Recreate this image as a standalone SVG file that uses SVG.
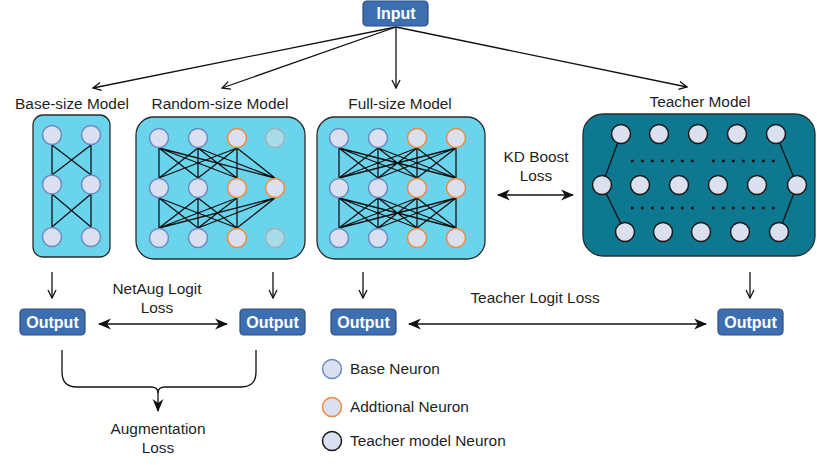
<svg xmlns="http://www.w3.org/2000/svg" width="817" height="465" viewBox="0 0 817 465">
<defs>
<style>
text{font-family:"Liberation Sans",Arial,sans-serif;fill:#1f1f1f}
.lbl{font-size:15.4px;text-anchor:middle}
.leg{font-size:15.4px}
.btn{fill:#3d6fb0;stroke:#2a4e80;stroke-width:1.2}
.btxt{font-size:16px;font-weight:bold;fill:#fff;text-anchor:middle}
.box{fill:#6bd4ed;stroke:#2b2b2b;stroke-width:1.3}
.tbox{fill:#0e7890;stroke:#2b2b2b;stroke-width:1.3}
.nb{fill:#dae0ef;stroke:#6a8cc4;stroke-width:1.5}
.no{fill:#dae0ef;stroke:#ee8a3e;stroke-width:1.5}
.nf{fill:#a8dbe9;stroke:#9fb3b6;stroke-width:1.5}
.nt{fill:#dae0ef;stroke:#1a1a1a;stroke-width:1.5}
.w{stroke:#111;stroke-width:1.3;fill:none}
.c{stroke:#111;stroke-width:1.3;fill:none}
.dots{stroke:#111;stroke-width:2.6;stroke-dasharray:2.6 7.4;fill:none}
</style>
<marker id="open" viewBox="0 0 10 10" refX="9" refY="5" markerWidth="10" markerHeight="10" markerUnits="userSpaceOnUse" orient="auto-start-reverse">
<path d="M1,1 L9,5 L1,9" fill="none" stroke="#111" stroke-width="1.3"/>
</marker>
<marker id="fill" viewBox="0 0 12 12" refX="11" refY="6" markerWidth="13" markerHeight="13" markerUnits="userSpaceOnUse" orient="auto-start-reverse">
<path d="M0,1 L12,6 L0,11 L3.5,6 z" fill="#111"/>
</marker>
</defs>
<rect width="817" height="465" fill="#fff"/>

<g id="connectors">
<line class="c" x1="396" y1="27" x2="93" y2="88" marker-end="url(#open)"/>
<line class="c" x1="396" y1="27" x2="222" y2="88" marker-end="url(#open)"/>
<line class="c" x1="396" y1="27" x2="396" y2="88" marker-end="url(#open)"/>
<line class="c" x1="396" y1="27" x2="687" y2="87" marker-end="url(#open)"/>
<line class="c" x1="52" y1="272" x2="52" y2="298" marker-end="url(#open)"/>
<line class="c" x1="273" y1="272" x2="273" y2="298" marker-end="url(#open)"/>
<line class="c" x1="363" y1="272" x2="363" y2="298" marker-end="url(#open)"/>
<line class="c" x1="750" y1="272" x2="750" y2="298" marker-end="url(#open)"/>
<line class="c" x1="99" y1="324" x2="227" y2="324" marker-start="url(#fill)" marker-end="url(#fill)"/>
<line class="c" x1="409" y1="324" x2="706" y2="324" marker-start="url(#fill)" marker-end="url(#fill)"/>
<line class="c" x1="498" y1="195" x2="573" y2="195" marker-start="url(#fill)" marker-end="url(#fill)"/>
<path class="c" d="M62,350 V372 Q62,387 77,387 H151 Q158,387 158,393 Q158,387 165,387 H241 Q256,387 256,372 V350"/>
<line class="c" x1="158" y1="392" x2="158" y2="411" marker-end="url(#fill)"/>
</g>

<g id="input">
<rect class="btn" x="363" y="1" width="65" height="25" rx="4"/>
<text class="btxt" x="396" y="19">Input</text>
</g>

<g id="base-model">
<text class="lbl" x="72" y="109">Base-size Model</text>
<rect class="box" x="33" y="115" width="77" height="142" rx="10"/>
<path class="w" d="M52,145 V175 M91,145 V175 M52,145 L91,175 M91,145 L52,175 M52,194 V227 M91,194 V227 M52,194 L91,227 M91,194 L52,227"/>
<circle class="nb" cx="52" cy="135" r="9.5"/><circle class="nb" cx="91" cy="135" r="9.5"/>
<circle class="nb" cx="52" cy="184.5" r="9.5"/><circle class="nb" cx="91" cy="184.5" r="9.5"/>
<circle class="nb" cx="52" cy="237" r="9.5"/><circle class="nb" cx="91" cy="237" r="9.5"/>
</g>

<g id="random-model">
<text class="lbl" x="220" y="109">Random-size Model</text>
<rect class="box" x="136" y="117" width="169" height="142" rx="18"/>
<path class="w" d="M159,148 L159,178 M159,148 L198,178 M159,148 L237,178 M159,148 L275,178 M198,148 L159,178 M198,148 L198,178 M198,148 L237,178 M198,148 L275,178 M237,148 L159,178 M237,148 L198,178 M237,148 L237,178 M237,148 L275,178 M159,198 L159,228 M159,198 L198,228 M159,198 L237,228 M198,198 L159,228 M198,198 L198,228 M198,198 L237,228 M237,198 L159,228 M237,198 L198,228 M237,198 L237,228 M275,198 L159,228 M275,198 L198,228 M275,198 L237,228"/>
<circle class="nb" cx="159" cy="138" r="9.5"/><circle class="nb" cx="198" cy="138" r="9.5"/><circle class="no" cx="237" cy="138" r="9.5"/><circle class="nf" cx="275" cy="138" r="9.5"/>
<circle class="nb" cx="159" cy="188" r="9.5"/><circle class="nb" cx="198" cy="188" r="9.5"/><circle class="no" cx="237" cy="188" r="9.5"/><circle class="no" cx="275" cy="188" r="9.5"/>
<circle class="nb" cx="159" cy="238" r="9.5"/><circle class="nb" cx="198" cy="238" r="9.5"/><circle class="no" cx="237" cy="238" r="9.5"/><circle class="nf" cx="275" cy="238" r="9.5"/>
</g>

<g id="full-model">
<text class="lbl" x="400" y="109">Full-size Model</text>
<rect class="box" x="317" y="117" width="168" height="142" rx="18"/>
<path class="w" d="M339,148 L339,178 M339,148 L378,178 M339,148 L417,178 M339,148 L456,178 M378,148 L339,178 M378,148 L378,178 M378,148 L417,178 M378,148 L456,178 M417,148 L339,178 M417,148 L378,178 M417,148 L417,178 M417,148 L456,178 M456,148 L339,178 M456,148 L378,178 M456,148 L417,178 M456,148 L456,178 M339,198 L339,228 M339,198 L378,228 M339,198 L417,228 M339,198 L456,228 M378,198 L339,228 M378,198 L378,228 M378,198 L417,228 M378,198 L456,228 M417,198 L339,228 M417,198 L378,228 M417,198 L417,228 M417,198 L456,228 M456,198 L339,228 M456,198 L378,228 M456,198 L417,228 M456,198 L456,228"/>
<circle class="nb" cx="339" cy="138" r="9.5"/><circle class="nb" cx="378" cy="138" r="9.5"/><circle class="no" cx="417" cy="138" r="9.5"/><circle class="no" cx="456" cy="138" r="9.5"/>
<circle class="nb" cx="339" cy="188" r="9.5"/><circle class="nb" cx="378" cy="188" r="9.5"/><circle class="no" cx="417" cy="188" r="9.5"/><circle class="no" cx="456" cy="188" r="9.5"/>
<circle class="nb" cx="339" cy="238" r="9.5"/><circle class="nb" cx="378" cy="238" r="9.5"/><circle class="no" cx="417" cy="238" r="9.5"/><circle class="no" cx="456" cy="238" r="9.5"/>
</g>

<g id="kd-boost-label">
<text class="lbl" x="536" y="162">KD Boost</text>
<text class="lbl" x="536" y="181">Loss</text>
</g>

<g id="teacher-model">
<text class="lbl" x="700" y="107">Teacher Model</text>
<rect class="tbox" x="583" y="114" width="232" height="142" rx="20"/>
<path class="w" d="M621,134 L602,185 L625,232 M776,134 L797,185 L779,232"/>
<line class="dots" x1="631" y1="161" x2="700" y2="161"/>
<line class="dots" x1="712" y1="161" x2="781" y2="161"/>
<line class="dots" x1="631" y1="208" x2="700" y2="208"/>
<line class="dots" x1="712" y1="208" x2="781" y2="208"/>
<circle class="nt" cx="621" cy="134" r="9.5"/><circle class="nt" cx="659" cy="134" r="9.5"/><circle class="nt" cx="698" cy="134" r="9.5"/><circle class="nt" cx="737" cy="134" r="9.5"/><circle class="nt" cx="776" cy="134" r="9.5"/>
<circle class="nt" cx="602" cy="185" r="9.5"/><circle class="nt" cx="640" cy="185" r="9.5"/><circle class="nt" cx="679" cy="185" r="9.5"/><circle class="nt" cx="718" cy="185" r="9.5"/><circle class="nt" cx="757" cy="185" r="9.5"/><circle class="nt" cx="797" cy="185" r="9.5"/>
<circle class="nt" cx="625" cy="232" r="9.5"/><circle class="nt" cx="663" cy="232" r="9.5"/><circle class="nt" cx="701" cy="232" r="9.5"/><circle class="nt" cx="740" cy="232" r="9.5"/><circle class="nt" cx="779" cy="232" r="9.5"/>
</g>

<g id="output-base">
<rect class="btn" x="20" y="309" width="65" height="26" rx="4"/>
<text class="btxt" x="52.5" y="327.5">Output</text>
</g>
<g id="output-random">
<rect class="btn" x="240" y="309" width="65" height="26" rx="4"/>
<text class="btxt" x="272.5" y="327.5">Output</text>
</g>
<g id="output-full">
<rect class="btn" x="331" y="309" width="65" height="26" rx="4"/>
<text class="btxt" x="363.5" y="327.5">Output</text>
</g>
<g id="output-teacher">
<rect class="btn" x="718" y="309" width="65" height="26" rx="4"/>
<text class="btxt" x="750.5" y="327.5">Output</text>
</g>

<g id="loss-labels">
<text class="lbl" x="157" y="294">NetAug Logit</text>
<text class="lbl" x="157" y="313">Loss</text>
<text class="lbl" x="535" y="303">Teacher Logit Loss</text>
<text class="lbl" x="158" y="434">Augmentation</text>
<text class="lbl" x="158" y="453">Loss</text>
</g>

<g id="legend">
<circle class="nb" cx="332" cy="369" r="9.5"/>
<text class="leg" x="350" y="374">Base Neuron</text>
<circle class="no" cx="332" cy="407" r="9.5"/>
<text class="leg" x="350" y="412">Addtional Neuron</text>
<circle class="nt" cx="332" cy="441" r="9.5"/>
<text class="leg" x="350" y="446">Teacher model Neuron</text>
</g>
</svg>
